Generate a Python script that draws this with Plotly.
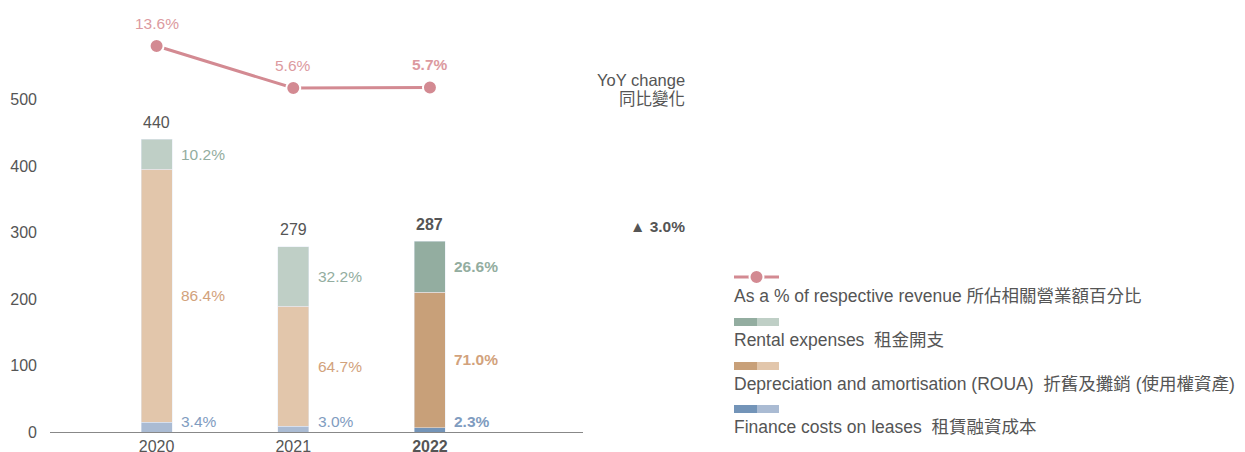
import plotly.graph_objects as go

years = ["2020", "2021", "2022"]
totals = [440, 279, 287]
rental = [44.9, 89.8, 76.3]
depreciation = [380.2, 180.5, 203.8]
finance = [15.0, 8.4, 6.6]
rental_pct = ["10.2%", "32.2%", "26.6%"]
dep_pct = ["86.4%", "64.7%", "71.0%"]
fin_pct = ["3.4%", "3.0%", "2.3%"]
revenue_pct = [13.6, 5.6, 5.7]
yoy_text = "▲ 3.0%"

FONT = "Liberation Sans, Arial, Noto Sans CJK TC, sans-serif"
GREY = "#555555"
# the page body has an 8px margin, so the figure is a bit smaller than the window
OFF = 8
W, H = 1245 - OFF, 452 - OFF
L, R, T, B = 42, 662, 2, 20
PW, PH = W - L - R, H - T - B

rental_c = ["#bfcfc6", "#bfcfc6", "#93ada0"]
dep_c = ["#e2c6ab", "#e2c6ab", "#c8a079"]
fin_c = ["#aabbd3", "#aabbd3", "#7394b8"]
rental_t, dep_t, fin_t, line_c = "#93ada0", "#d2a27c", "#7f9cc0", "#d38a92"

x = [0, 1, 2]
bw = 0.226

fig = go.Figure()
fig.add_bar(x=x, y=finance, marker_color=fin_c, width=bw, hoverinfo="skip")
fig.add_bar(x=x, y=depreciation, marker_color=dep_c, width=bw, hoverinfo="skip")
fig.add_bar(x=x, y=rental, marker_color=rental_c, width=bw, hoverinfo="skip")
fig.add_scatter(x=x, y=revenue_pct, yaxis="y2", mode="lines+markers",
                line=dict(color=line_c, width=3),
                marker=dict(size=14, color=line_c, line=dict(color="white", width=2)),
                hoverinfo="skip")

ann = []
def bold(s, i):
    return f"<b>{s}</b>" if i == 2 else s

for i in x:
    ann.append(dict(x=i, y=totals[i], text=bold(str(totals[i]), i), showarrow=False,
                    yanchor="bottom", yshift=6, font=dict(size=16, color=GREY)))
    xr = i + bw / 2
    ann.append(dict(x=xr, y=finance[i] + depreciation[i] + rental[i] / 2, text=bold(rental_pct[i], i),
                    showarrow=False, xanchor="left", xshift=7, font=dict(size=15.5, color=rental_t)))
    ann.append(dict(x=xr, y=finance[i] + depreciation[i] / 2, text=bold(dep_pct[i], i),
                    showarrow=False, xanchor="left", xshift=7, font=dict(size=15.5, color=dep_t)))
    ann.append(dict(x=xr, y=0, text=bold(fin_pct[i], i), showarrow=False, xanchor="left",
                    yanchor="bottom", xshift=7, font=dict(size=15.5, color=fin_t)))
    ann.append(dict(x=i, y=revenue_pct[i], yref="y2", text=bold(f"{revenue_pct[i]}%", i),
                    showarrow=False, yshift=23, font=dict(size=15.5, color="#dc9aa0")))

# page pixel -> paper coordinates
def px(xp):
    return (xp - OFF - L) / PW

def py(yp):
    return (H - B - (yp - OFF)) / PH

# YoY change header and value
ann.append(dict(x=px(687), y=py(80), xref="paper", yref="paper", xanchor="right", yanchor="middle",
                showarrow=False, text="YoY change", font=dict(size=16.5, color=GREY)))
ann.append(dict(x=px(687), y=py(99), xref="paper", yref="paper", xanchor="right", yanchor="middle",
                showarrow=False, text="同比變化", font=dict(size=16.5, color=GREY)))
ann.append(dict(x=px(687), y=totals[2], yref="y", xref="paper", xanchor="right", yanchor="bottom",
                yshift=4, showarrow=False, text=f"<b>{yoy_text}</b>", font=dict(size=15.5, color=GREY)))

# custom legend
shapes = []
legend_items = [
    ("As a % of respective revenue 所佔相關營業額百分比", None),
    ("Rental expenses  租金開支", ("#93ada0", "#bfcfc6")),
    ("Depreciation and amortisation (ROUA)  折舊及攤銷 (使用權資產)", ("#c8a079", "#e2c6ab")),
    ("Finance costs on leases  租賃融資成本", ("#7394b8", "#aabbd3")),
]
swatch_y = [277, 322, 366, 409]
text_y = [296, 340, 384, 427]
for k, (label, cols) in enumerate(legend_items):
    sy, ty = swatch_y[k], text_y[k]
    if cols is None:
        shapes.append(dict(type="line", xref="paper", yref="paper", x0=px(734), x1=px(779),
                           y0=py(sy), y1=py(sy), line=dict(color=line_c, width=3)))
        shapes.append(dict(type="circle", xref="paper", yref="paper", x0=px(749.5), x1=px(763.5),
                           y0=py(sy + 7), y1=py(sy - 7), fillcolor=line_c,
                           line=dict(color="white", width=2)))
    else:
        shapes.append(dict(type="rect", xref="paper", yref="paper", x0=px(734), x1=px(757),
                           y0=py(sy + 4), y1=py(sy - 4), fillcolor=cols[0], line_width=0))
        shapes.append(dict(type="rect", xref="paper", yref="paper", x0=px(757), x1=px(779),
                           y0=py(sy + 4), y1=py(sy - 4), fillcolor=cols[1], line_width=0))
    ann.append(dict(x=px(732), y=py(ty), xref="paper", yref="paper", xanchor="left", yanchor="middle",
                    showarrow=False, text=label, font=dict(size=17.5, color=GREY)))

ymax = PH / 0.665
fig.update_layout(
    width=W, height=H, barmode="stack", showlegend=False,
    margin=dict(l=L, r=R, t=T, b=B, autoexpand=False),
    paper_bgcolor="white", plot_bgcolor="white",
    font=dict(family=FONT, size=16, color=GREY),
    xaxis=dict(range=[-0.78, 3.12], tickvals=x,
               ticktext=["2020", "2021", "<b>2022</b>"], showgrid=False, zeroline=False,
               showline=True, linecolor="#888888", linewidth=1, ticks="",
               tickfont=dict(size=16, color=GREY)),
    yaxis=dict(range=[0, ymax], tickvals=[0, 100, 200, 300, 400, 500], showgrid=False,
               zeroline=False, showline=False, ticklabelstandoff=12,
               tickfont=dict(size=16, color=GREY)),
    yaxis2=dict(overlaying="y", range=[-59.9, 20.46], visible=False),
    annotations=ann, shapes=shapes,
)

fig.write_html("out.html")
